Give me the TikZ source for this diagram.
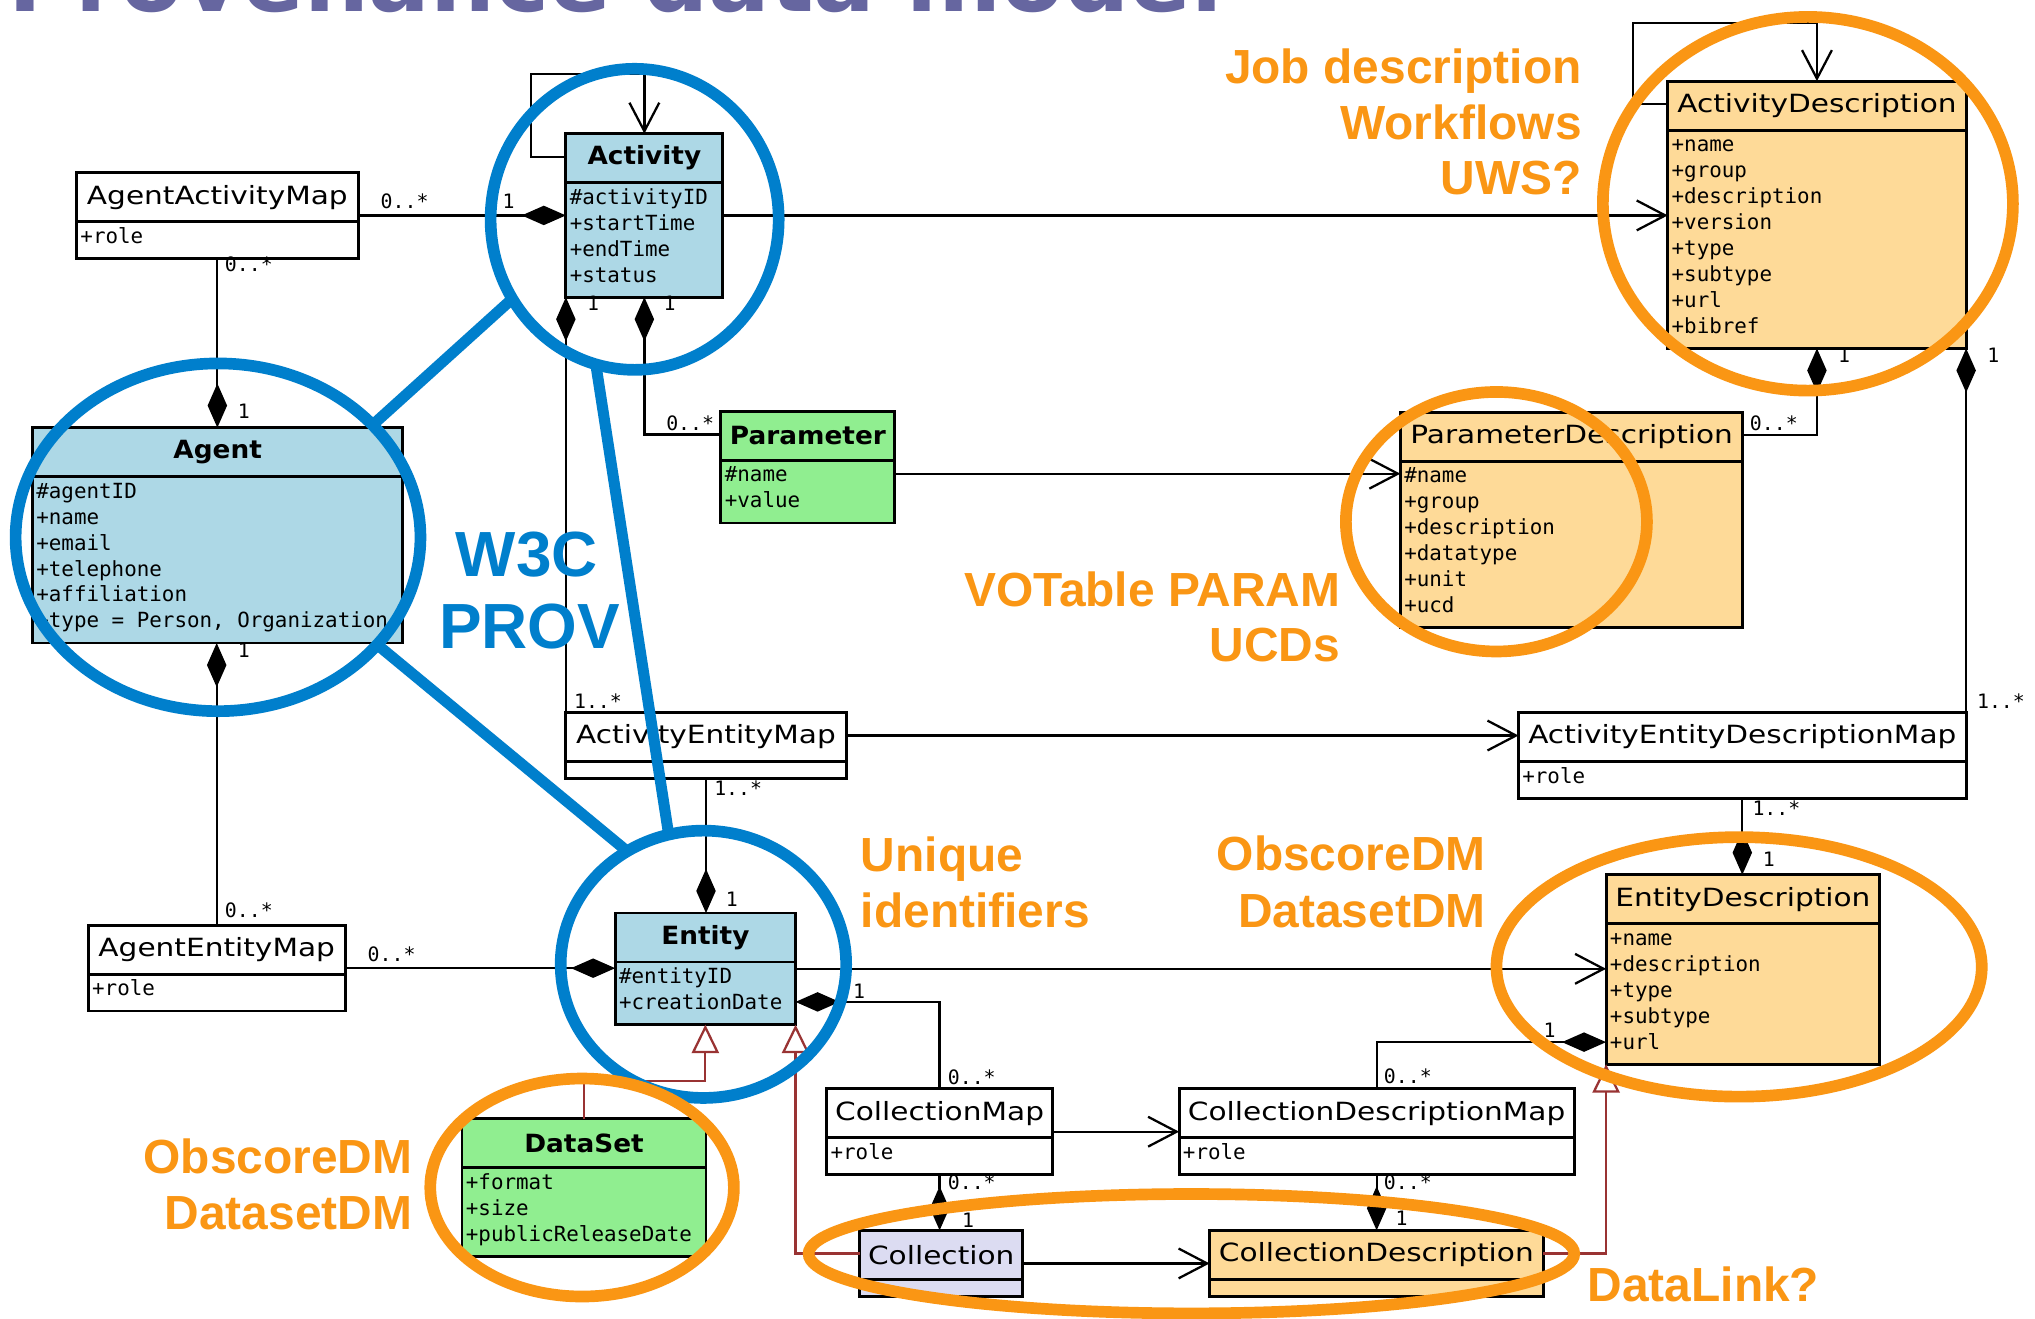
\documentclass[tikz,border=0pt]{standalone}
\usepackage{fontspec}
\usetikzlibrary{arrows.meta,shapes.multipart,shapes.geometric}

\newfontfamily\umlfont[FakeStretch=1.18]{DejaVu Sans}
\newfontfamily\umlboldfont[FakeStretch=1.05]{DejaVu Sans}
\newfontfamily\umlmono{DejaVu Sans Mono}
\newfontfamily\notefont{Liberation Sans}
\newfontfamily\slidefont{DejaVu Sans}

\definecolor{actblue}{RGB}{173,216,230}
\definecolor{pargreen}{RGB}{144,238,144}
\definecolor{descorange}{RGB}{254,218,152}
\definecolor{collav}{RGB}{220,220,242}
\definecolor{genred}{RGB}{153,51,51}
\definecolor{provblue}{RGB}{0,127,204}
\definecolor{noteorange}{RGB}{250,150,20}
\definecolor{slidegray}{RGB}{102,102,160}

% class compartments
\newcommand{\clshead}[2]{\parbox[c][0.71cm][c]{#1}{\centering\umlfont\fontsize{11}{13}\selectfont #2}}
\newcommand{\clsheadb}[2]{\parbox[c][0.71cm][c]{#1}{\centering\umlboldfont\bfseries\fontsize{11}{13}\selectfont #2}}
\newcommand{\clsbody}[3]{\parbox[c][#2][t]{#1}{\umlmono\fontsize{9.15}{11.38}\selectfont\raggedright\leftskip=0.06cm\rule{0pt}{0.31cm}#3}}
\newcommand{\clsempty}[1]{\parbox[c][0.22cm]{#1}{\mbox{}}}

\tikzset{
  umlclass/.style={draw, line width=0.045cm, rectangle split, rectangle split parts=2, inner sep=0pt, outer sep=0pt, anchor=north west},
  comp/.style={line width=0.035cm, -{Diamond[length=0.68cm, width=0.3cm]}},
  navi/.style={line width=0.035cm, -{Straight Barb[length=0.44cm, width=0.46cm]}},
  gen/.style={draw=genred, line width=0.035cm, -{Triangle[open, length=0.44cm, width=0.42cm]}},
  mult/.style={font=\umlmono\fontsize{8.7}{10}\selectfont, inner sep=0pt, anchor=west},
  provring/.style={draw=provblue, line width=0.18cm, ellipse, inner sep=0pt, outer sep=0pt},
  notering/.style={draw=noteorange, line width=0.18cm, ellipse, inner sep=0pt, outer sep=0pt},
  provlink/.style={draw=provblue, line width=0.17cm},
  provtext/.style={text=provblue, font=\notefont\bfseries\fontsize{28}{32}\selectfont, inner sep=0pt, anchor=base},
  notetext/.style={text=noteorange, font=\notefont\bfseries\fontsize{21}{24}\selectfont, inner sep=0pt},
}

\begin{document}
\begin{tikzpicture}[x=0.02cm, y=-0.02cm]
\path[use as bounding box, fill=white] (0,0) rectangle (1568,1016);

% Slide title, cut by the top edge
\node[anchor=base west, inner sep=0pt, text=slidegray, font=\slidefont\bfseries\fontsize{40}{48}\selectfont] (slidetitle) at (6,9) {Provenance data model};

% Drawing class Activity
\node[umlclass, fill=actblue] (act) at (436,103) {\clsheadb{2.42cm}{Activity}\nodepart{two}\clsbody{2.42cm}{1.72cm}{\#activityID\\+startTime\\+endTime\\+status}};
% Drawing class AgentActivityMap
\node[umlclass, fill=white] (aam) at (59,133) {\clshead{4.34cm}{AgentActivityMap}\nodepart{two}\clsbody{4.34cm}{0.52cm}{+role}};
% Drawing class Agent
\node[umlclass, fill=actblue] (agent) at (25,329.5) {\clsheadb{5.71cm}{Agent}\nodepart{two}\clsbody{5.71cm}{2.52cm}{\#agentID\\+name\\+email\\+telephone\\+affiliation\\+type = Person, Organization}};
% Drawing class AgentEntityMap
\node[umlclass, fill=white] (aem) at (68,713) {\clshead{3.96cm}{AgentEntityMap}\nodepart{two}\clsbody{3.96cm}{0.52cm}{+role}};
% Drawing class Entity
\node[umlclass, fill=actblue] (ent) at (474,703.5) {\clsheadb{2.78cm}{Entity}\nodepart{two}\clsbody{2.78cm}{0.92cm}{\#entityID\\+creationDate}};
% Drawing class ActivityEntityMap
\node[umlclass, fill=white] (aentm) at (436,549) {\clshead{4.32cm}{ActivityEntityMap}\nodepart{two}\clsempty{4.32cm}};
% Drawing class Parameter
\node[umlclass, fill=pargreen] (par) at (555.5,317) {\clsheadb{2.68cm}{Parameter}\nodepart{two}\clsbody{2.68cm}{0.92cm}{\#name\\+value}};
% Drawing class ParameterDescription
\node[umlclass, fill=descorange] (pard) at (1079,317.5) {\clshead{5.28cm}{ParameterDescription}\nodepart{two}\clsbody{5.28cm}{2.52cm}{\#name\\+group\\+description\\+datatype\\+unit\\+ucd}};
% Drawing class ActivityDescription
\node[umlclass, fill=descorange] (actd) at (1285,62.5) {\clshead{4.60cm}{ActivityDescription}\nodepart{two}\clsbody{4.60cm}{3.32cm}{+name\\+group\\+description\\+version\\+type\\+subtype\\+url\\+bibref}};
% Drawing class ActivityEntityDescriptionMap
\node[umlclass, fill=white] (aedm) at (1170,549) {\clshead{6.90cm}{ActivityEntityDescriptionMap}\nodepart{two}\clsbody{6.90cm}{0.52cm}{+role}};
% Drawing class EntityDescription
\node[umlclass, fill=descorange] (entd) at (1237.5,674) {\clshead{4.22cm}{EntityDescription}\nodepart{two}\clsbody{4.22cm}{2.12cm}{+name\\+description\\+type\\+subtype\\+url}};
% Drawing class CollectionMap
\node[umlclass, fill=white] (colm) at (637,839) {\clshead{3.48cm}{CollectionMap}\nodepart{two}\clsbody{3.48cm}{0.52cm}{+role}};
% Drawing class CollectionDescriptionMap
\node[umlclass, fill=white] (coldm) at (908.5,839) {\clshead{6.09cm}{CollectionDescriptionMap}\nodepart{two}\clsbody{6.09cm}{0.52cm}{+role}};
% Drawing class Collection
\node[umlclass, fill=collav] (col) at (662.5,948) {\clshead{2.51cm}{Collection}\nodepart{two}\clsempty{2.51cm}};
% Drawing class CollectionDescription
\node[umlclass, fill=descorange] (cold) at (932,948) {\clshead{5.14cm}{CollectionDescription}\nodepart{two}\clsempty{5.14cm}};
% Drawing class DataSet
\node[umlclass, fill=pargreen] (ds) at (356,862) {\clsheadb{3.76cm}{DataSet}\nodepart{two}\clsbody{3.76cm}{1.32cm}{+format\\+size\\+publicReleaseDate}};

% Drawing self associations
\draw[navi] ([yshift=-0.355cm]act.north west) -- ++(-27,0) |- ([yshift=0.92cm]act.north) -- (act.north);
\draw[navi] ([yshift=-0.355cm]actd.north west) -- ++(-27,0) |- ([yshift=0.9cm]actd.north) -- (actd.north);

% Drawing compositions
\draw[comp] (aam.east) -- (aam.east -| act.west);
\draw[comp] (aam.south) -- (aam.south |- agent.north);
\draw[comp] (aem.north) -- (aem.north |- agent.south);
\draw[comp] (aem.east) -- (aem.east -| ent.west);
\draw[comp] (aentm.north west) -- (act.south west);
\draw[comp] ([yshift=-0.355cm]par.north west) -| (act.south);
\draw[comp] ([yshift=-0.355cm]pard.north east) -| (actd.south);
\draw[comp] (aedm.north east) -- (aedm.north east |- actd.south east);
\draw[comp] (aentm.south) -- (aentm.south |- ent.north);
\draw[comp] (aedm.south) -- (aedm.south |- entd.north);
\draw[comp] (colm.north) |- ([yshift=-1.37cm]ent.north east);
\draw[comp] (colm.south) -- (colm.south |- col.north);
\draw[comp] (coldm.south) -- (coldm.south |- cold.north);
\draw[comp] (coldm.north) |- ([yshift=-2.58cm]entd.north west);

% Drawing navigable associations
\coordinate (parout) at ([yshift=-0.96cm]par.north east);
\coordinate (aentmout) at ([yshift=-0.355cm]aentm.north east);
\draw[navi] (act.east) -- (act.east -| actd.west);
\draw[navi] (parout) -- (parout -| pard.west);
\draw[navi] (aentmout) -- (aentmout -| aedm.west);
\draw[navi] (ent.east) -- (ent.east -| entd.west);
\draw[navi] (colm.east) -- (colm.east -| coldm.west);
\draw[navi] (col.east) -- (col.east -| cold.west);

% Drawing generalisations
\draw[gen] (ds.north) -- ++(0,-29) -| (ent.south);
\draw[gen] ([yshift=-0.355cm]col.north west) -| (ent.south east);
\draw[gen] ([yshift=-0.355cm]cold.north east) -| (entd.south west);

% Marking multiplicities
\foreach \mx/\my/\mt [count=\mi] in {293/155/0..*, 387/155/1, 173/204/0..*, 183/317/1,
    452/234/1, 511/234/1, 183/501/1, 173/701/0..*, 283/735/0..*, 442/540/1..*,
    550/607/1..*, 559/693/1, 513/326/0..*, 1348/326/0..*, 1416/274/1, 1531/274/1,
    1523/540/1..*, 1350/623/1..*, 1358/662/1, 657/764/1, 730/830/0..*, 730/911/0..*,
    741/940/1, 1066/911/0..*, 1075/939/1, 1066/829/0..*, 1189/794/1}
  \node[mult] (mult\mi) at (\mx,\my) {\mt};

% Drawing W3C PROV rings
\node[provring, minimum width=4.44cm, minimum height=4.64cm] (ringact) at (489,169) {};
\node[provring, minimum width=6.24cm, minimum height=5.36cm] (ringagent) at (168,414) {};
\node[provring, minimum width=4.4cm, minimum height=4.12cm] (ringent) at (542,743) {};
\draw[provlink] (ringact.213) -- (ringagent.36);
\draw[provlink] (ringagent.-34) -- (ringent.124);
\draw[provlink] (ringact.255) -- (ringent.105);
\node[provtext] (w3c) at (406,444) {W3C};
\node[provtext] (prov) at (408,500) {PROV};

% Drawing standards rings
\node[notering, minimum width=6.32cm, minimum height=5.76cm] (ringactd) at (1393,157) {};
\node[notering, minimum width=4.64cm, minimum height=4.0cm] (ringpard) at (1153,402) {};
\node[notering, minimum width=7.48cm, minimum height=4.0cm] (ringentd) at (1340,745) {};
\node[notering, minimum width=4.68cm, minimum height=3.36cm] (ringds) at (448.5,915) {};
\node[notering, minimum width=11.8cm, minimum height=1.84cm] (ringcol) at (918,966) {};

% Marking notes
\node[notetext, anchor=base east] (job1) at (1219,64) {Job description};
\node[notetext, anchor=base east] (job2) at (1219,107.5) {Workflows};
\node[notetext, anchor=base east] (job3) at (1219,150) {UWS?};
\node[notetext, anchor=base east] (vot1) at (1033,467.5) {VOTable PARAM};
\node[notetext, anchor=base east] (vot2) at (1033,510) {UCDs};
\node[notetext, anchor=base west] (uniq1) at (663,671.5) {Unique};
\node[notetext, anchor=base west] (uniq2) at (663,714.5) {identifiers};
\node[notetext, anchor=base east] (obs1) at (1145,670.5) {ObscoreDM};
\node[notetext, anchor=base east] (obs2) at (1145,714.5) {DatasetDM};
\node[notetext, anchor=base east] (obs3) at (318,904) {ObscoreDM};
\node[notetext, anchor=base east] (obs4) at (318,947) {DatasetDM};
\node[notetext, anchor=base west] (dlink) at (1223,1003) {DataLink?};
\end{tikzpicture}
\end{document}
